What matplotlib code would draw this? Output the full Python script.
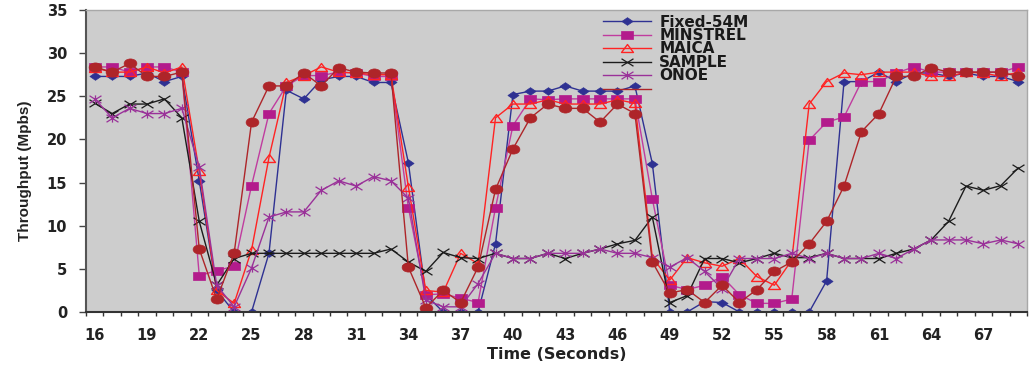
import matplotlib
matplotlib.use("Agg")
import matplotlib.pyplot as plt
from matplotlib.path import Path
from matplotlib.lines import Line2D
from matplotlib.transforms import Affine2D

# Time axis (seconds) and throughput per rate-control algorithm (Mbps)
seconds = list(range(16, 70))

fixed_54m = [27.3, 27.3, 27.3, 27.7, 26.7, 27.3, 15.2, 2.5, 0.0, 0.0,
             6.8, 25.7, 24.7, 26.9, 27.3, 27.3, 26.6, 26.6, 17.3, 2.0,
             0.0, 0.0, 0.0, 7.9, 25.2, 25.6, 25.6, 26.2, 25.6, 25.6,
             25.6, 26.2, 17.2, 0.0, 0.0, 1.2, 1.1, 0.0, 0.0, 0.0,
             0.0, 0.0, 3.6, 26.7, 26.7, 27.8, 26.7, 27.7, 27.7, 27.3,
             27.7, 27.3, 27.3, 26.7]

minstrel = [28.4, 28.4, 27.8, 28.4, 28.4, 27.8, 4.2, 4.8, 5.3, 14.65,
            23.0, 26.2, 27.4, 27.4, 27.8, 27.7, 27.3, 27.3, 12.1, 2.0,
            2.1, 1.6, 1.1, 12.1, 21.6, 24.7, 24.6, 24.7, 24.7, 24.7,
            24.7, 24.7, 13.1, 3.1, 2.6, 3.1, 4.1, 2.0, 1.0, 1.0,
            1.5, 19.9, 22.0, 22.6, 26.7, 26.7, 27.7, 28.4, 27.8, 27.8,
            27.8, 27.8, 27.8, 28.4]

maica = [28.3, 27.8, 27.8, 28.4, 27.7, 28.4, 16.3, 2.5, 1.0, 7.2,
         17.9, 26.6, 27.4, 28.4, 27.8, 27.7, 27.5, 27.5, 14.5, 2.5,
         2.3, 6.8, 5.6, 22.5, 24.1, 24.1, 24.6, 24.1, 24.1, 24.1,
         24.6, 24.2, 6.3, 3.7, 6.3, 5.7, 5.3, 6.2, 4.1, 3.1,
         6.0, 24.1, 26.7, 27.7, 27.5, 27.8, 27.8, 27.8, 27.3, 27.3,
         27.8, 27.7, 27.3, 27.8]

sample = [24.2, 23.0, 24.1, 24.1, 24.7, 22.5, 10.5, 3.1, 6.2, 6.8,
          6.8, 6.8, 6.8, 6.8, 6.8, 6.8, 6.8, 7.3, 5.8, 4.7,
          6.9, 6.3, 6.2, 6.8, 6.2, 6.2, 6.8, 6.2, 6.8, 7.3,
          7.9, 8.3, 11.0, 1.1, 1.9, 6.2, 6.2, 5.7, 6.2, 6.8,
          6.3, 6.3, 6.8, 6.2, 6.2, 6.2, 6.8, 7.3, 8.35, 10.5,
          14.6, 14.1, 14.65, 16.7]

onoe = [24.7, 22.5, 23.6, 23.0, 23.0, 23.6, 16.8, 3.1, 0.6, 5.1,
        11.0, 11.6, 11.6, 14.1, 15.2, 14.6, 15.7, 15.2, 13.2, 1.4,
        0.6, 0.6, 3.3, 6.8, 6.2, 6.2, 6.8, 6.8, 6.8, 7.3,
        6.8, 6.8, 6.3, 5.2, 6.3, 4.7, 2.7, 6.2, 6.2, 6.2,
        6.8, 6.2, 6.8, 6.2, 6.2, 6.8, 6.2, 7.3, 8.35, 8.35,
        8.35, 7.9, 8.35, 7.9]

sixth_series = [28.4, 27.8, 28.8, 27.3, 27.3, 27.8, 7.3, 1.5, 6.8, 22.0,
                26.2, 26.2, 27.7, 26.2, 28.3, 27.8, 27.7, 27.7, 5.2, 0.5,
                2.5, 1.1, 5.2, 14.2, 18.9, 22.5, 24.1, 23.6, 23.6, 22.0,
                24.1, 23.0, 5.8, 2.2, 2.6, 1.1, 3.1, 1.1, 2.6, 4.7,
                5.8, 7.9, 10.5, 14.6, 20.9, 23.0, 27.3, 27.3, 28.3, 27.8,
                27.8, 27.8, 27.8, 27.3]

series_names = ["Fixed-54M", "MINSTREL", "MAICA", "SAMPLE", "ONOE"]
tick_seconds = list(range(16, 70, 3))

# Wide marker shapes
SX = 1.5
ellipse = Path.unit_circle().transformed(Affine2D().scale(1.4, 1.0))
rect = Path.unit_rectangle().transformed(Affine2D().translate(-0.5, -0.5).scale(1.55, 1.0))
diamond = Path([(0, 1), (1.45, 0), (0, -1), (-1.45, 0), (0, 1)],
               [Path.MOVETO, Path.LINETO, Path.LINETO, Path.LINETO, Path.CLOSEPOLY])
triangle = Path([(0, 1), (SX, -1), (-SX, -1), (0, 1)],
                [Path.MOVETO, Path.LINETO, Path.LINETO, Path.CLOSEPOLY])
cross = Path([(-1.6, -1), (1.6, 1), (-1.6, 1), (1.6, -1)],
             [Path.MOVETO, Path.LINETO, Path.MOVETO, Path.LINETO])
asterisk = Path([(-1.6, -1), (1.6, 1), (-1.6, 1), (1.6, -1), (0, -1.1), (0, 1.1)],
                [Path.MOVETO, Path.LINETO, Path.MOVETO, Path.LINETO, Path.MOVETO, Path.LINETO])

c_fixed = "#2e3192"
c_minstrel_line = "#c03c9f"
c_minstrel = "#b31b8c"
c_maica = "#ff2323"
c_sample = "#1c1c1c"
c_onoe = "#9a3199"
c_sixth = "#ae2529"

fig = plt.figure(figsize=(10.29, 3.66), dpi=100)
ax = fig.add_axes([86 / 1029, 54 / 366, 941 / 1029, 302 / 366])
ax.set_facecolor("#cdcdcd")

lw = 1.0
l1, = ax.plot(seconds, fixed_54m, color=c_fixed, lw=lw, marker=diamond, ms=8,
              mfc=c_fixed, mec=c_fixed, mew=0.5, label=series_names[0])
l2, = ax.plot(seconds, minstrel, color=c_minstrel_line, lw=lw, marker=rect, ms=9.2,
              mfc=c_minstrel, mec=c_minstrel, mew=0.5, label=series_names[1])
l3, = ax.plot(seconds, maica, color=c_maica, lw=lw, marker=triangle, ms=8.6,
              mfc="none", mec=c_maica, mew=1.0, label=series_names[2])
l4, = ax.plot(seconds, sample, color=c_sample, lw=lw, marker=cross, ms=8.6,
              mfc="none", mec=c_sample, mew=0.9, label=series_names[3])
l5, = ax.plot(seconds, onoe, color=c_onoe, lw=lw, marker=asterisk, ms=8.6,
              mfc="none", mec=c_onoe, mew=0.9, label=series_names[4])
l6, = ax.plot(seconds, sixth_series, color=c_sixth, lw=lw, marker=ellipse, ms=9.2,
              mfc=c_sixth, mec=c_sixth, mew=0.5)

ax.set_xlim(15.5, 69.5)
ax.set_ylim(0, 35)

bold = {"family": "DejaVu Sans", "weight": "bold"}

ax.set_yticks(range(0, 36, 5))
ax.set_yticklabels([str(v) for v in range(0, 36, 5)], fontsize=10.5, color="#222222", **bold)
ax.tick_params(axis="y", direction="out", length=5, width=1, color="#444444", pad=8.5)

ax.set_xticks(tick_seconds)
ax.set_xticklabels([str(s) for s in tick_seconds], fontsize=10.5, color="#222222", **bold)
ax.set_xticks([s - 0.5 for s in seconds] + [seconds[-1] + 0.5], minor=True)
ax.tick_params(axis="x", which="major", length=0, pad=11.5)
ax.tick_params(axis="x", which="minor", direction="out", length=3, width=1, color="#333333")

ax.set_xlabel("Time (Seconds)", fontsize=11.5, color="#222222", labelpad=3, **bold)
ax.set_ylabel("Throughput (Mpbs)", fontsize=11, color="#222222",
              family="Liberation Sans", weight="bold")
ax.yaxis.set_label_coords(-0.0574, 0.467)

for side in ("top", "right"):
    ax.spines[side].set_color("#a8a8a8")
    ax.spines[side].set_linewidth(1.0)
ax.spines["left"].set_color("#555555")
ax.spines["left"].set_linewidth(1.5)
ax.spines["bottom"].set_color("#333333")
ax.spines["bottom"].set_linewidth(1.5)

handles = [l1, l2, l3, l4, l5, Line2D([], [], color=c_sixth, lw=lw)]
labels = series_names + [""]
leg = ax.legend(handles, labels, loc="upper left", bbox_to_anchor=(0.549, 0.985),
                frameon=False, prop={"family": "DejaVu Sans", "weight": "bold", "size": 11},
                handlelength=3.2, handletextpad=0.5, labelspacing=-0.1,
                borderpad=0, borderaxespad=0)
for t in leg.get_texts():
    t.set_color("#1a1a1a")

fig.savefig("out.png", dpi=100)
